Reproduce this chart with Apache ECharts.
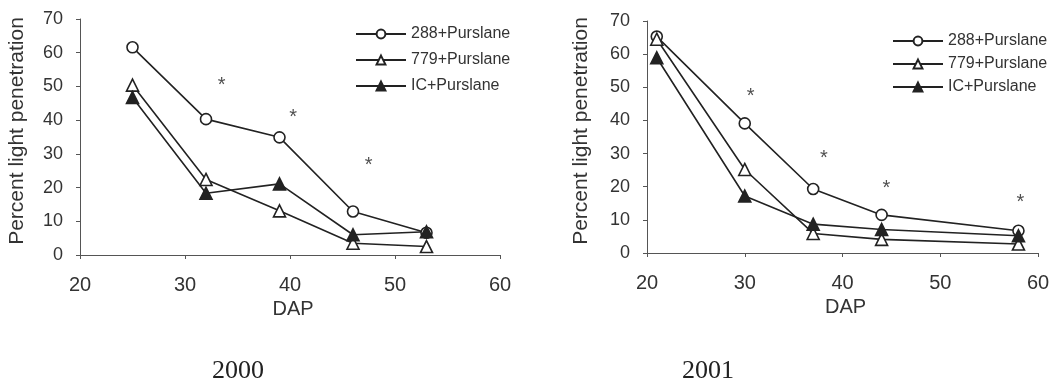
<!DOCTYPE html>
<html>
<head>
<meta charset="utf-8">
<script src="https://cdn.jsdelivr.net/npm/echarts@6/dist/echarts.min.js"></script>
<style>
html,body{margin:0;padding:0;background:#fff;}
#c{width:1062px;height:392px;}
</style>
</head>
<body>
<div id="c"></div>
<script>
// ---- data ----
const seriesNames = ['288+Purslane', '779+Purslane', 'IC+Purslane'];
const yTicks = [0, 10, 20, 30, 40, 50, 60, 70];
const xTicks = [20, 30, 40, 50, 60];

const days2000 = [25, 32, 39, 46, 53];
const p288_2000 = [61.6, 40.3, 34.9, 12.9, 6.6];
const p779_2000 = [50.4, 22.4, 13.1, 3.5, 2.5];
const ic_2000   = [46.7, 18.3, 21.1, 6.0, 6.9];
const star2000x = [33.5, 40.3, 47.5];
const star2000y = [52, 42.5, 28.4];

const days2001 = [21, 30, 37, 44, 58];
const p288_2001 = [65.3, 39.1, 19.3, 11.5, 6.7];
const p779_2001 = [64.5, 25.2, 5.9, 4.1, 2.7];
const ic_2001   = [58.9, 17.2, 8.7, 7.1, 5.2];
const star2001x = [30.6, 38.1, 44.5, 58.2];
const star2001y = [49, 30.3, 21.2, 17];

const panelLabels = ['2000', '2001'];
const xName = 'DAP';
const yName = 'Percent light penetration';

// ---- chart ----
const FONT = '"Liberation Sans", Arial, sans-serif';
const INK = '#222';
const zip = (xs, ys) => xs.map((x, i) => [x, ys[i]]);

function axisX(gi) {
  return {
    type: 'value', gridIndex: gi,
    min: xTicks[0], max: xTicks[xTicks.length - 1], interval: 10,
    name: xName, nameLocation: 'middle', nameGap: 38,
    nameTextStyle: { fontFamily: FONT, fontSize: 20, color: '#333', padding: [0, 0, 0, 6] },
    axisLine: { show: true, onZero: false, lineStyle: { color: '#555', width: 1 } },
    axisTick: { show: true, length: 4, lineStyle: { color: '#555' } },
    axisLabel: { fontFamily: FONT, fontSize: 20, color: '#333', margin: 20 },
    splitLine: { show: false }
  };
}
function axisY(gi, gap) {
  return {
    type: 'value', gridIndex: gi,
    min: yTicks[0], max: yTicks[yTicks.length - 1], interval: 10,
    name: yName, nameLocation: 'middle', nameGap: gap, nameRotate: 90,
    nameTextStyle: { fontFamily: FONT, fontSize: 21, color: '#333', padding: [0, 0, 0, 12] },
    axisLine: { show: true, onZero: false, lineStyle: { color: '#555', width: 1 } },
    axisTick: { show: true, length: 4, lineStyle: { color: '#555' } },
    axisLabel: { fontFamily: FONT, fontSize: 18, color: '#333', margin: 17 },
    splitLine: { show: false }
  };
}
function lineSeries(name, gi, xs, ys, symbol, fill, size) {
  return {
    name: name, type: 'line', xAxisIndex: gi, yAxisIndex: gi,
    data: zip(xs, ys),
    symbol: symbol, symbolSize: size, showAllSymbol: true,
    lineStyle: { color: INK, width: 1.6 },
    itemStyle: { color: fill, borderColor: INK, borderWidth: 1.6 },
    emphasis: { disabled: true },
    animation: false, z: 3
  };
}
function starSeries(gi, xs, ys) {
  return {
    type: 'scatter', xAxisIndex: gi, yAxisIndex: gi,
    data: zip(xs, ys), symbolSize: 1,
    itemStyle: { color: 'rgba(0,0,0,0)' },
    label: { show: true, formatter: '*', position: 'inside', offset: [0, 6],
      fontFamily: FONT, fontSize: 20, color: '#222' },
    animation: false, silent: true
  };
}
function legend(left, top, gap) {
  return {
    data: seriesNames, orient: 'vertical', left: left, top: top,
    itemWidth: 50, itemHeight: 11, itemGap: gap,
    selectedMode: false,
    textStyle: { fontFamily: FONT, fontSize: 16, color: '#333' }
  };
}

const chart = echarts.init(document.getElementById('c'), null, { renderer: 'canvas' });
chart.setOption({
  backgroundColor: '#fff',
  animation: false,
  grid: [
    { left: 80, top: 19, width: 420, height: 236 },
    { left: 647, top: 21, width: 391, height: 232 }
  ],
  xAxis: [axisX(0), axisX(1)],
  yAxis: [axisY(0, 52), axisY(1, 55)],
  legend: [legend(350, 21, 10), legend(887, 28, 7)],
  series: [
    lineSeries(seriesNames[0], 0, days2000, p288_2000, 'circle', '#fff', 11),
    lineSeries(seriesNames[1], 0, days2000, p779_2000, 'triangle', '#fff', 12),
    lineSeries(seriesNames[2], 0, days2000, ic_2000, 'triangle', INK, 12),
    starSeries(0, star2000x, star2000y),
    lineSeries(seriesNames[0], 1, days2001, p288_2001, 'circle', '#fff', 11),
    lineSeries(seriesNames[1], 1, days2001, p779_2001, 'triangle', '#fff', 12),
    lineSeries(seriesNames[2], 1, days2001, ic_2001, 'triangle', INK, 12),
    starSeries(1, star2001x, star2001y)
  ],
  graphic: [
    { type: 'text', left: 238 - 26, top: 358, style: { text: panelLabels[0], font: '26px "Liberation Serif", "Times New Roman", serif', fill: '#222' } },
    { type: 'text', left: 708 - 26, top: 358, style: { text: panelLabels[1], font: '26px "Liberation Serif", "Times New Roman", serif', fill: '#222' } }
  ]
});
</script>
</body>
</html>
